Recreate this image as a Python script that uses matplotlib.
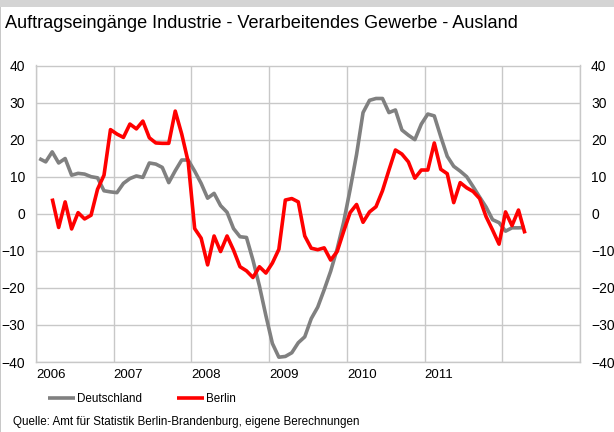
import numpy as np
import matplotlib.pyplot as plt
from matplotlib.patches import Rectangle

plt.rcParams['font.family'] = ['Liberation Sans', 'DejaVu Sans']

# Monatswerte ab Januar 2006 (Veränderung zum Vorjahr in %)
start_year = 2006
deutschland = [14.9, 14.0, 16.7, 13.7, 14.9, 10.4, 10.9, 10.7, 10.0, 9.7, 6.2, 5.9,
               5.7, 8.2, 9.5, 10.2, 9.8, 13.7, 13.4, 12.5, 8.4, 11.6, 14.5, 14.5,
               11.5, 8.2, 4.2, 5.5, 2.2, 0.4, -4.0, -6.2, -6.4, -12.5, -19.5, -27.5,
               -35.0, -38.7, -38.5, -37.5, -34.8, -33.2, -28.3, -25.2, -20.5, -15.5, -9.5, -2.3,
               6.5, 16.0, 27.3, 30.6, 31.1, 31.1, 27.3, 28.0, 22.6, 21.2, 20.0, 24.2,
               26.9, 26.4, 20.8, 15.5, 12.8, 11.5, 10.0, 7.3, 4.5, 1.8, -1.6, -2.4,
               -4.7, -3.8, -3.8, -3.7]
# Berlin erst ab März 2006
berlin_start = 2
berlin = [4.1, -3.7, 3.2, -4.1, 0.3, -1.4, -0.4, 6.6, 10.4, 22.7,
          21.5, 20.6, 24.2, 22.9, 25.0, 20.5, 19.1, 19.0, 19.0, 27.7, 21.5, 14.0,
          -4.0, -6.6, -13.8, -6.0, -10.2, -6.0, -9.8, -14.3, -15.4, -17.2, -14.3, -16.0,
          -13.3, -9.6, 3.7, 4.1, 3.2, -6.0, -9.3, -9.7, -9.2, -12.5, -10.2, -4.8,
          0.3, 2.5, -2.3, 0.5, 1.9, 6.2, 11.8, 17.2, 16.1, 14.0, 9.6, 11.8,
          11.8, 19.1, 12.0, 10.8, 3.0, 8.4, 7.0, 6.0, 4.1, -0.8, -4.4, -8.2,
          0.5, -3.2, 1.0, -5.3]
years = list(range(2006, 2014))
year_labels = ['2006', '2007', '2008', '2009', '2010', '2011', '', '']
y_ticks = list(range(-40, 41, 10))

# Zeitachse: Monatsmitte
x_de = start_year + (np.arange(len(deutschland)) + 0.5) / 12
x_be = start_year + (np.arange(len(berlin)) + berlin_start + 0.5) / 12

fig = plt.figure(figsize=(6.14, 4.32), dpi=100)
W, H = 614, 432

# grauer Rahmen oben und links
fig.add_artist(Rectangle((0, 1 - 7 / H), 1, 7 / H, transform=fig.transFigure,
                         facecolor='#d4d4d4', edgecolor='none'))
fig.add_artist(Rectangle((0, 0), 1.5 / W, 1 - 7 / H, transform=fig.transFigure,
                         facecolor='#c8c8c8', edgecolor='none'))

ax = fig.add_axes([36 / W, 1 - 362 / H, (580 - 36) / W, (362 - 65.5) / H])

line_de, = ax.plot(x_de, deutschland, color='#808080', lw=2.6, label='Deutschland',
                   solid_joinstyle='round', solid_capstyle='butt')
line_be, = ax.plot(x_be, berlin, color='#ff0000', lw=2.6, label='Berlin',
                   solid_joinstyle='round', solid_capstyle='butt')

ax.set_xlim(2006, 2013)
ax.set_ylim(-40, 40)
ax.set_xticks(years)
ax.set_xticklabels(year_labels, ha='left', fontsize=9.5)
ax.set_yticks(y_ticks)
ax.tick_params(axis='x', length=0, pad=5)
ax.tick_params(axis='y', length=0, labelsize=10, pad=8,
               right=True, labelright=True)
ax.grid(True, color='#c8c8c8', lw=1)
ax.set_axisbelow(True)
for s in ax.spines.values():
    s.set_color('#c8c8c8')
    s.set_linewidth(1)

# Titel und Quelle
fig.text(5 / W, 1 - 28 / H, 'Auftragseingänge Industrie - Verarbeitendes Gewerbe - Ausland',
         fontsize=13.1, va='baseline', ha='left')
fig.text(13 / W, 1 - 425 / H,
         'Quelle: Amt für Statistik Berlin-Brandenburg, eigene Berechnungen',
         fontsize=8.35, va='baseline', ha='left')

# Legende: ein Eintrag je Reihe
leg_kw = dict(loc='center left', frameon=False, fontsize=8.4, handlelength=2.3,
              handletextpad=0.2, borderaxespad=0, borderpad=0)
fig.legend([line_de], ['Deutschland'], bbox_to_anchor=(48 / W, 1 - 399.5 / H), **leg_kw)
fig.legend([line_be], ['Berlin'], bbox_to_anchor=(177 / W, 1 - 399.5 / H), **leg_kw)

fig.savefig('out.png', dpi=100)
